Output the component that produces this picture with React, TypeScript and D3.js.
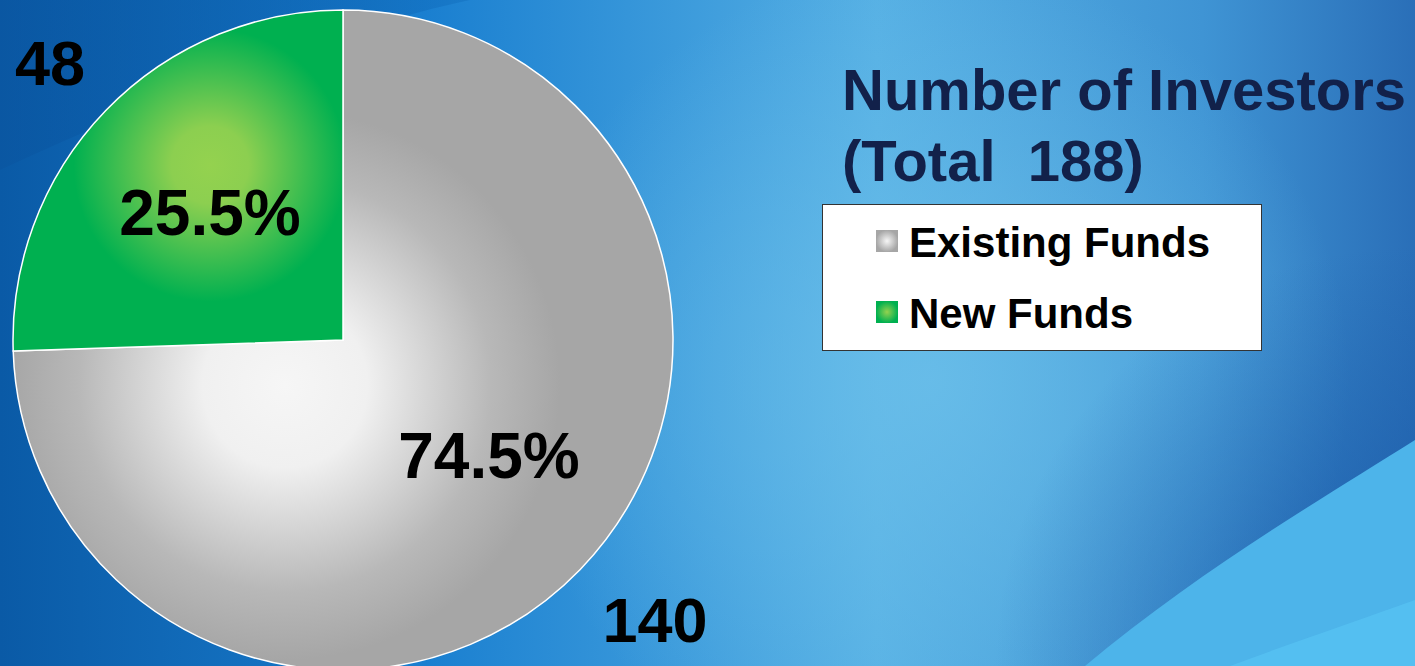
import * as d3 from "d3";
import { useEffect, useRef } from "react";

const categories = ["Existing Funds", "New Funds"];
const counts = [140, 48];
const percentLabels = ["74.5%", "25.5%"];
const titleLines = ["Number of Investors", "(Total  188)"];

const WIDTH = 1415;
const HEIGHT = 666;

export default function App() {
  const ref = useRef<SVGSVGElement | null>(null);

  useEffect(() => {
    const svg = d3.select(ref.current);
    svg.selectAll("*").remove();
    svg.attr("width", WIDTH).attr("height", HEIGHT);

    const defs = svg.append("defs");

    // ===== Background =====
    const bg = defs
      .append("linearGradient")
      .attr("id", "bgGrad")
      .attr("x1", "0%")
      .attr("y1", "0%")
      .attr("x2", "100%")
      .attr("y2", "0%");
    bg.append("stop").attr("offset", "0%").attr("stop-color", "#0a5aa6");
    bg.append("stop").attr("offset", "30%").attr("stop-color", "#1a7fd0");
    bg.append("stop").attr("offset", "62%").attr("stop-color", "#56b0e4");
    bg.append("stop").attr("offset", "85%").attr("stop-color", "#3f94d4");
    bg.append("stop").attr("offset", "100%").attr("stop-color", "#2a6fb8");

    const glow = defs
      .append("radialGradient")
      .attr("id", "bgGlow")
      .attr("gradientUnits", "userSpaceOnUse")
      .attr("cx", 930)
      .attr("cy", 380)
      .attr("r", 420);
    glow.append("stop").attr("offset", "0%").attr("stop-color", "#6cc0ea").attr("stop-opacity", 0.8);
    glow.append("stop").attr("offset", "100%").attr("stop-color", "#6cc0ea").attr("stop-opacity", 0);

    const dark = defs
      .append("radialGradient")
      .attr("id", "bgDark")
      .attr("gradientUnits", "userSpaceOnUse")
      .attr("cx", 1415)
      .attr("cy", 666)
      .attr("r", 420);
    dark.append("stop").attr("offset", "0%").attr("stop-color", "#1a5aa8").attr("stop-opacity", 0.9);
    dark.append("stop").attr("offset", "100%").attr("stop-color", "#1a5aa8").attr("stop-opacity", 0);

    const swoosh = defs
      .append("linearGradient")
      .attr("id", "tlSwoosh")
      .attr("x1", "0%")
      .attr("y1", "0%")
      .attr("x2", "100%")
      .attr("y2", "0%");
    swoosh.append("stop").attr("offset", "0%").attr("stop-color", "#0a55a0").attr("stop-opacity", 0.6);
    swoosh.append("stop").attr("offset", "100%").attr("stop-color", "#0a62b2").attr("stop-opacity", 0.3);

    svg.append("rect").attr("width", WIDTH).attr("height", HEIGHT).attr("fill", "url(#bgGrad)");
    svg.append("rect").attr("width", WIDTH).attr("height", HEIGHT).attr("fill", "url(#bgGlow)");
    svg.append("rect").attr("width", WIDTH).attr("height", HEIGHT).attr("fill", "url(#bgDark)");

    // top-left swoosh
    svg
      .append("path")
      .attr("d", "M0,0 L470,0 C330,30 150,100 0,170 Z")
      .attr("fill", "url(#tlSwoosh)");

    // bottom-right swoosh
    svg
      .append("path")
      .attr("d", "M1085,666 C1200,570 1320,500 1415,440 L1415,666 Z")
      .attr("fill", "#4db4ea");
    svg
      .append("path")
      .attr("d", "M1230,666 C1300,640 1360,620 1415,600 L1415,666 Z")
      .attr("fill", "#56c2f2")
      .attr("opacity", 0.8);

    // ===== Pie gradients (coordinates relative to pie centre) =====
    const cx = 343;
    const cy = 340;
    const radius = 330;

    const grey = defs
      .append("radialGradient")
      .attr("id", "greyGrad")
      .attr("gradientUnits", "userSpaceOnUse")
      .attr("cx", -58)
      .attr("cy", 45)
      .attr("r", 275);
    grey.append("stop").attr("offset", "0%").attr("stop-color", "#f6f6f6");
    grey.append("stop").attr("offset", "30%").attr("stop-color", "#f0f0f0");
    grey.append("stop").attr("offset", "75%").attr("stop-color", "#b8b8b8");
    grey.append("stop").attr("offset", "100%").attr("stop-color", "#a6a6a6");

    const green = defs
      .append("radialGradient")
      .attr("id", "greenGrad")
      .attr("gradientUnits", "userSpaceOnUse")
      .attr("cx", -133)
      .attr("cy", -175)
      .attr("r", 155);
    green.append("stop").attr("offset", "0%").attr("stop-color", "#94d24f");
    green.append("stop").attr("offset", "25%").attr("stop-color", "#8ccf50");
    green.append("stop").attr("offset", "88%").attr("stop-color", "#00b050");
    green.append("stop").attr("offset", "100%").attr("stop-color", "#00b050");

    const color = d3
      .scaleOrdinal<string, string>()
      .domain(categories)
      .range(["url(#greyGrad)", "url(#greenGrad)"]);

    const markerGrey = defs.append("radialGradient").attr("id", "markerGrey");
    markerGrey.append("stop").attr("offset", "0%").attr("stop-color", "#f6f6f6");
    markerGrey.append("stop").attr("offset", "100%").attr("stop-color", "#a6a6a6");
    const markerGreen = defs.append("radialGradient").attr("id", "markerGreen");
    markerGreen.append("stop").attr("offset", "0%").attr("stop-color", "#94d24f");
    markerGreen.append("stop").attr("offset", "100%").attr("stop-color", "#00b050");
    const markerColor = d3
      .scaleOrdinal<string, string>()
      .domain(categories)
      .range(["url(#markerGrey)", "url(#markerGreen)"]);

    // ===== Pie =====
    type Slice = { name: string; value: number; pct: string };
    const data: Slice[] = categories.map((c, i) => ({ name: c, value: counts[i], pct: percentLabels[i] }));
    const pie = d3
      .pie<Slice>()
      .sort(null)
      .value((d) => d.value);
    const arc = d3
      .arc<d3.PieArcDatum<Slice>>()
      .innerRadius(0)
      .outerRadius(radius);

    const g = svg.append("g").attr("transform", `translate(${cx},${cy})`);
    const arcs = pie(data);

    g.selectAll("path.slice")
      .data(arcs)
      .enter()
      .append("path")
      .attr("class", "slice")
      .attr("d", arc)
      .attr("fill", (d) => color(d.data.name))
      .attr("stroke", "#ffffff")
      .attr("stroke-width", 1.5);

    // percentage labels
    const pctPos = [
      [146, 138],
      [-133, -105],
    ];
    g.selectAll("text.pct")
      .data(arcs)
      .enter()
      .append("text")
      .attr("class", "pct")
      .attr("x", (_d, i) => pctPos[i][0])
      .attr("y", (_d, i) => pctPos[i][1])
      .attr("text-anchor", "middle")
      .style("font-family", "'Liberation Sans', Arial, sans-serif")
      .style("font-weight", "bold")
      .style("font-size", "64px")
      .attr("fill", "#000")
      .text((d) => d.data.pct);

    // count labels outside
    const countPos = [
      [312, 302],
      [-293, -255],
    ];
    g.selectAll("text.count")
      .data(arcs)
      .enter()
      .append("text")
      .attr("class", "count")
      .attr("x", (_d, i) => countPos[i][0])
      .attr("y", (_d, i) => countPos[i][1])
      .attr("text-anchor", "middle")
      .style("font-family", "'Liberation Sans', Arial, sans-serif")
      .style("font-weight", "bold")
      .style("font-size", "63px")
      .attr("fill", "#000")
      .text((d) => String(d.data.value));

    // ===== Title =====
    titleLines.forEach((line, i) => {
      svg
        .append("text")
        .attr("x", 842)
        .attr("y", 110 + i * 71)
        .style("font-family", "'Liberation Sans', Arial, sans-serif")
        .style("font-weight", "bold")
        .style("font-size", "58px")
        .style("white-space", "pre")
        .attr("fill", "#12214a")
        .text(line);
    });

    // ===== Legend =====
    const legend = svg.append("g");
    legend
      .append("rect")
      .attr("x", 822.5)
      .attr("y", 204.5)
      .attr("width", 439)
      .attr("height", 146)
      .attr("fill", "#ffffff")
      .attr("stroke", "#333")
      .attr("stroke-width", 1);

    categories.forEach((key, i) => {
      const yBase = 257 + i * 71;
      legend
        .append("rect")
        .attr("x", 876)
        .attr("y", yBase - 27)
        .attr("width", 22)
        .attr("height", 22)
        .attr("fill", markerColor(key));
      legend
        .append("text")
        .attr("x", 909)
        .attr("y", yBase)
        .style("font-family", "'Liberation Sans', Arial, sans-serif")
        .style("font-weight", "bold")
        .style("font-size", "42px")
        .attr("fill", "#000")
        .text(key);
    });
  }, []);

  return (
    <div style={{ position: "fixed", left: 0, top: 0, width: WIDTH, height: HEIGHT, overflow: "hidden" }}>
      <svg ref={ref} style={{ display: "block" }}>
        <title>Number of Investors</title>
      </svg>
    </div>
  );
}
